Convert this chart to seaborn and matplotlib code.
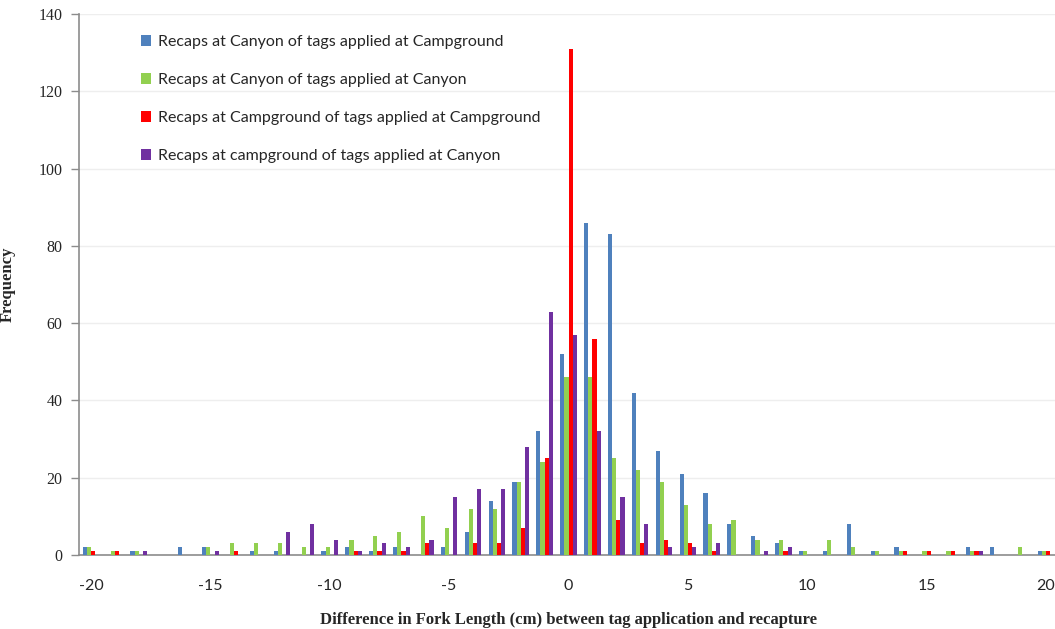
import numpy as np
import pandas as pd
import matplotlib
matplotlib.use("Agg")
import matplotlib.pyplot as plt
import seaborn as sns

diffs = list(range(-20, 21))

canyon_of_campground = [2, 0, 1, 0, 2, 2, 0, 1, 1, 0, 1, 2, 1, 2, 0, 2, 6, 14, 19, 32, 52,
                        86, 83, 42, 27, 21, 16, 8, 5, 3, 1, 1, 8, 1, 2, 0, 0, 2, 2, 0, 1]
canyon_of_canyon = [2, 1, 1, 0, 0, 2, 3, 3, 3, 2, 2, 4, 5, 6, 10, 7, 12, 12, 19, 24, 46,
                    46, 25, 22, 19, 13, 8, 9, 4, 4, 1, 4, 2, 1, 1, 1, 1, 1, 0, 2, 1]
campground_of_campground = [1, 1, 0, 0, 0, 0, 1, 0, 0, 0, 0, 1, 1, 1, 3, 0, 3, 3, 7, 25, 131,
                            56, 9, 3, 4, 3, 1, 0, 0, 1, 0, 0, 0, 0, 1, 1, 1, 1, 0, 0, 1]
campground_of_canyon = [0, 0, 1, 0, 0, 1, 0, 0, 6, 8, 4, 1, 3, 2, 4, 15, 17, 17, 28, 63, 57,
                        32, 15, 8, 2, 2, 3, 0, 1, 2, 0, 0, 0, 0, 0, 0, 0, 1, 0, 0, 0]

series_names = [
    "Recaps at Canyon of tags applied at Campground",
    "Recaps at Canyon of tags applied at Canyon",
    "Recaps at Campground of tags applied at Campground",
    "Recaps at campground of tags applied at Canyon",
]
series_values = [canyon_of_campground, canyon_of_canyon,
                 campground_of_campground, campground_of_canyon]
colors = ["#4f81bd", "#92d050", "#ff0000", "#7030a0"]
tick_labels = ["-20", "-15", "-10", "-5", "0", "5", "10", "15", "20"]

rows = []
for name, vals in zip(series_names, series_values):
    for d, v in zip(diffs, vals):
        rows.append({"diff": d, "series": name, "freq": v})
df = pd.DataFrame(rows)

sns.set_style("white")
W, H = 1055, 629
fig = plt.figure(figsize=(W / 100, H / 100), dpi=100)
left, right, top, bottom = 79, 1058, 14, 555
ax = fig.add_axes([left / W, 1 - bottom / H, (right - left) / W, (bottom - top) / H])

sns.barplot(data=df, x="diff", y="freq", hue="series", order=diffs,
            hue_order=series_names, palette=colors, width=0.7,
            saturation=1, errorbar=None, ax=ax, legend=True, zorder=3,
            linewidth=0)

ax.set_xlim(-0.5, len(diffs) - 0.5)
ax.set_ylim(0, 140)
ax.set_yticks(range(0, 141, 20))
ax.set_yticklabels([str(v) for v in range(0, 141, 20)],
                   fontfamily="Liberation Serif", fontsize=11.5)

pos = [diffs.index(int(t)) for t in tick_labels]
ax.set_xticks(pos)
ax.set_xticklabels(tick_labels, fontfamily="Lato", fontsize=11.5)
ax.set_xticks(np.arange(-0.5, len(diffs), 1.0), minor=True)
ax.tick_params(axis="x", which="major", length=0, pad=17)
ax.tick_params(axis="x", which="minor", length=5, color="#8c8c8c", width=1)
ax.tick_params(axis="y", which="major", length=6, color="#8c8c8c", width=1, pad=6, left=True)

ax.grid(axis="y", color="#eeeeee", linewidth=1, zorder=0)
ax.set_axisbelow(True)
for s in ["top", "right"]:
    ax.spines[s].set_visible(False)
for s in ["left", "bottom"]:
    ax.spines[s].set_color("#8c8c8c")
    ax.spines[s].set_linewidth(1.2)

ax.set_xlabel("Difference in Fork Length (cm) between tag application and recapture",
              fontfamily="Liberation Serif", fontweight="bold", fontsize=12, labelpad=14)
ax.set_ylabel("Frequency", fontfamily="Liberation Serif", fontweight="bold", fontsize=12)
ax.yaxis.set_label_coords((16 - left) / (right - left), 0.5)

handles, labels = ax.get_legend_handles_labels()
ax.legend(handles, labels, loc="upper left",
          bbox_to_anchor=(141 / W, 1 - 35 / H), bbox_transform=fig.transFigure,
          frameon=False, prop={"family": "Lato", "size": 11.5},
          handlelength=0.65, handleheight=0.65, handletextpad=0.4,
          labelspacing=1.5, borderpad=0, borderaxespad=0)

fig.savefig("out.png", dpi=100)
